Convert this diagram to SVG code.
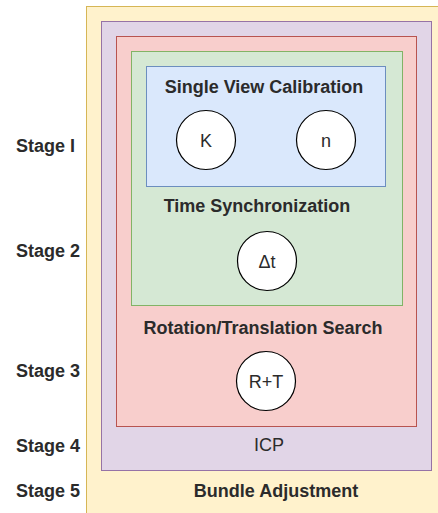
<svg xmlns="http://www.w3.org/2000/svg" width="438" height="513" viewBox="0 0 438 513">
  <style>
    .lbl { font-family: "Liberation Sans", Arial, sans-serif; font-size: 18px; font-weight: bold; fill: #2b2b2b; }
    .plain { font-family: "Liberation Sans", Arial, sans-serif; font-size: 18px; fill: #2b2b2b; }
    .mid { text-anchor: middle; }
    .node { fill: #ffffff; stroke: #000000; stroke-width: 1.2; }
  </style>
  <rect width="438" height="513" fill="#ffffff"/>

  <!-- nested stage boxes -->
  <g id="stage5">
    <rect x="86.5" y="6.5" width="360" height="520" fill="#fff2cc" stroke="#d6b656"/>
    <text class="lbl mid" x="276" y="497">Bundle Adjustment</text>
  </g>
  <g id="stage4">
    <rect x="101.5" y="21.5" width="330" height="449" fill="#e1d5e7" stroke="#9673a6"/>
    <text class="plain mid" x="269" y="451">ICP</text>
  </g>
  <g id="stage3">
    <rect x="116.5" y="36.5" width="300" height="390" fill="#f8cecc" stroke="#b85450"/>
    <text class="lbl mid" x="263" y="334">Rotation/Translation Search</text>
  </g>
  <g id="stage2">
    <rect x="131.5" y="51.5" width="271" height="254" fill="#d5e8d4" stroke="#82b366"/>
    <text class="lbl mid" x="257" y="212">Time Synchronization</text>
  </g>
  <g id="stage1">
    <rect x="146.5" y="66.5" width="239" height="120" fill="#dae8fc" stroke="#6c8ebf"/>
    <text class="lbl mid" x="264" y="93">Single View Calibration</text>
  </g>

  <!-- parameter nodes -->
  <g id="K">
    <circle class="node" cx="206" cy="140" r="29.5"/>
    <text class="plain mid" x="206" y="146.5">K</text>
  </g>
  <g id="n">
    <circle class="node" cx="326" cy="140" r="29.5"/>
    <text class="plain mid" x="326" y="146.5">n</text>
  </g>
  <g id="dt">
    <circle class="node" cx="267" cy="261" r="29.5"/>
    <text class="plain mid" x="267" y="267.5">Δt</text>
  </g>
  <g id="RT">
    <circle class="node" cx="266" cy="381" r="29.5"/>
    <text class="plain mid" x="266" y="387.5">R+T</text>
  </g>

  <g id="connectors"/>

  <!-- stage labels -->
  <g id="stage-labels">
    <text class="lbl" x="16" y="152">Stage I</text>
    <text class="lbl" x="16" y="257">Stage 2</text>
    <text class="lbl" x="16" y="377">Stage 3</text>
    <text class="lbl" x="16" y="452">Stage 4</text>
    <text class="lbl" x="16" y="497">Stage 5</text>
  </g>
</svg>
